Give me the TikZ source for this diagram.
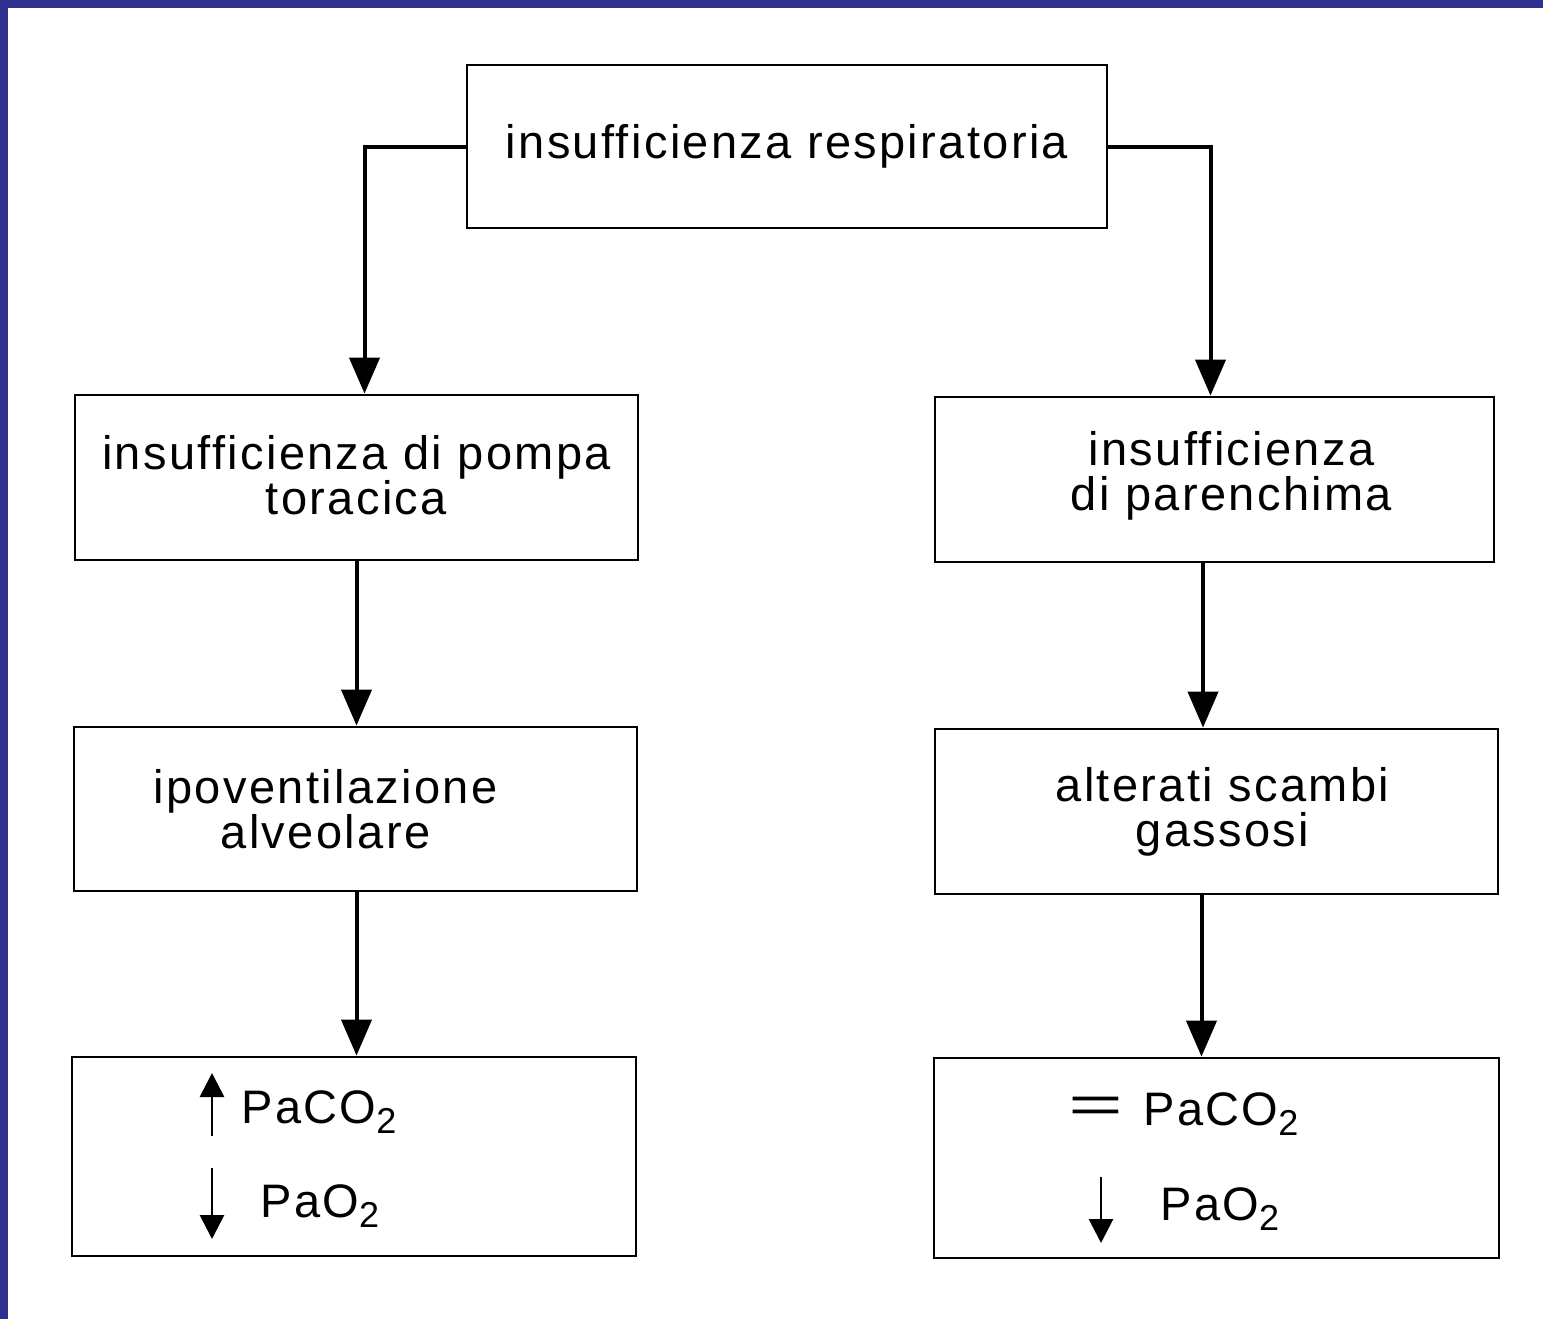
\documentclass[tikz,border=0pt]{standalone}
\usepackage{fontspec}
\setmainfont[LetterSpace=5]{Liberation Sans}
\usepackage{tikz}
\usetikzlibrary{arrows.meta}
\definecolor{fblue}{RGB}{46,49,146}
\newcommand{\fsub}[1]{\raisebox{-5pt}{\fontsize{18}{18}\selectfont #1}}

\begin{document}
\begin{tikzpicture}[
  x=0.5pt, y=-0.5pt, font=\fontsize{23.5}{22.5}\selectfont,
  fbox/.style={draw=black, line width=1.4pt, inner sep=0pt, fill=white},
  ftext/.style={align=center, inner sep=0pt},
  fval/.style={anchor=base west, inner sep=0pt},
  farr/.style={-{Triangle[length=18pt,width=15pt]}, line width=2pt},
  fsym/.style={-{Triangle[length=12pt,width=12pt]}, line width=1.4pt},
]
  % page and frame
  \useasboundingbox (0,0) rectangle (1543,1319);
  \fill[fblue] (0,0) rectangle (1543,8);
  \fill[fblue] (0,0) rectangle (8,1319);
  % 1. top
  \node[fbox, minimum width=320pt, minimum height=81.5pt] (top) at (787,146.5) {};
  \node[ftext] (topt) at (top.center) {insufficienza respiratoria};
  % 2. left column
  \node[fbox, minimum width=281.5pt, minimum height=82.5pt] (l1) at (356.5,477.5) {};
  \node[ftext] (l1t) at ([yshift=1pt]l1.center) {insufficienza di pompa\\toracica};
  \node[fbox, minimum width=281.5pt, minimum height=82pt] (l2) at (355.5,809) {};
  \node[ftext] (l2t) at ([xshift=-15pt]l2.center) {ipoventilazione\\alveolare};
  \node[fbox, minimum width=282pt, minimum height=99.5pt] (l3) at (354,1156.5) {};
  \node[fval] (l3a) at (241,1123) {PaCO\fsub{2}};
  \node[fval] (l3b) at (260,1217) {PaO\fsub{2}};
  \coordinate (l3up1) at (212,1136);
  \coordinate (l3up2) at (212,1073);
  \coordinate (l3dn1) at (212,1168);
  \coordinate (l3dn2) at (212,1239);
  % 3. right column
  \node[fbox, minimum width=279.5pt, minimum height=82.5pt] (r1) at (1214.5,479.5) {};
  \node[ftext] (r1t) at ([xshift=8.5pt, yshift=2pt]r1.center) {insufficienza\\di parenchima};
  \node[fbox, minimum width=281.5pt, minimum height=82.5pt] (r2) at (1216.5,811.5) {};
  \node[ftext] (r2t) at ([xshift=3pt]r2.center) {alterati scambi\\gassosi};
  \node[fbox, minimum width=282.5pt, minimum height=100pt] (r3) at (1216.5,1158) {};
  \node[ftext] (r3eq) at (1096,1110) {\scalebox{2.0}[1.1]{=}};
  \node[fval] (r3a) at (1143,1125) {PaCO\fsub{2}};
  \node[fval] (r3b) at (1160,1220) {PaO\fsub{2}};
  \coordinate (r3dn1) at (1101,1177);
  \coordinate (r3dn2) at (1101,1243);
  % arrows
  \draw[farr] (top.west) -| ([xshift=4pt]l1.north);
  \draw[farr] (top.east) -| ([xshift=-2pt]r1.north);
  \draw[farr] (l1.south) -- (l1.south |- l2.north);
  \draw[farr] ([xshift=0.5pt]l2.south) -- ([xshift=0.5pt]l2.south |- l3.north);
  \draw[farr] ([xshift=-5.75pt]r1.south) -- ([xshift=-5.75pt]r1.south |- r2.north);
  \draw[farr] ([xshift=-7.5pt]r2.south) -- ([xshift=-7.5pt]r2.south |- r3.north);
  \draw[fsym] (l3up1) -- (l3up2);
  \draw[fsym] (l3dn1) -- (l3dn2);
  \draw[fsym] (r3dn1) -- (r3dn2);
\end{tikzpicture}
\end{document}
